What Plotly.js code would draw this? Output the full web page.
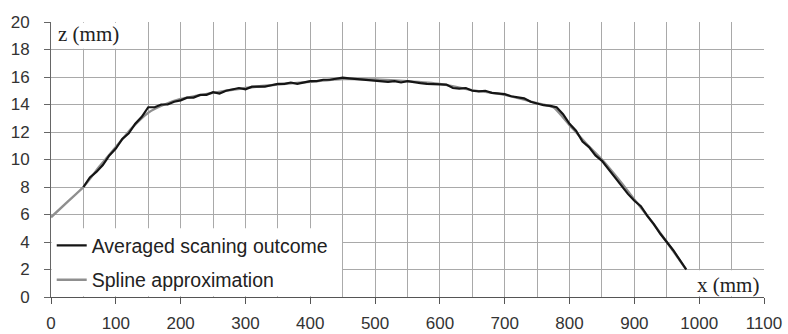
<!DOCTYPE html>
<html>
<head>
<meta charset="utf-8">
<script src="https://cdn.plot.ly/plotly-3.0.1.min.js"></script>
<style>html,body{margin:0;padding:0;background:#fff;}#chart{width:788px;height:334px;}</style>
</head>
<body>
<div id="chart"></div>
<script>
// Averaged scanning outcome (black, noisy)
const scanX = [50,60,70,80,90,100,110,120,130,140,150,160,170,180,190,200,210,220,230,240,250,260,270,280,290,300,310,320,330,340,350,360,370,380,390,400,410,420,430,440,450,460,470,480,490,500,510,520,530,540,550,560,570,580,590,600,610,620,630,640,650,660,670,680,690,700,710,720,730,740,750,760,770,780,790,800,810,820,830,840,850,860,870,880,890,900,910,920,930,940,950,960,970,980];
const scanZ = [8.0,8.7,9.1,9.6,10.3,10.8,11.5,11.9,12.6,13.1,13.8,13.8,14.0,14.0,14.2,14.3,14.5,14.5,14.7,14.7,14.9,14.8,15.0,15.1,15.2,15.1,15.3,15.3,15.3,15.4,15.5,15.5,15.6,15.5,15.6,15.7,15.7,15.8,15.8,15.9,15.95,15.9,15.85,15.8,15.75,15.7,15.7,15.65,15.7,15.6,15.7,15.6,15.55,15.5,15.5,15.45,15.45,15.2,15.15,15.2,15.0,14.95,15.0,14.85,14.8,14.75,14.6,14.55,14.45,14.2,14.05,13.95,13.9,13.8,13.3,12.6,12.1,11.3,10.9,10.3,9.9,9.3,8.7,8.1,7.5,7.0,6.6,5.9,5.3,4.6,4.0,3.4,2.7,2.0];
// Spline approximation (gray)
const splineX = [0,25,50,75,100,125,150,175,200,250,300,350,400,450,500,550,600,650,700,750,775,800,825,850,875,900,925,950,980];
const splineZ = [5.8,6.9,8.0,9.5,10.9,12.3,13.4,14.0,14.4,14.85,15.2,15.45,15.65,15.85,15.82,15.7,15.5,15.05,14.7,14.1,13.8,12.5,11.2,10.0,8.6,7.1,5.6,4.0,2.0];
const seriesNames = ["Averaged scaning outcome", "Spline approximation"];
const xTickVals = [0,100,200,300,400,500,600,700,800,900,1000,1100];
const yTickVals = [0,2,4,6,8,10,12,14,16,18,20];
const xLabel = "x (mm)";
const zLabel = "z (mm)";

const gridCol = '#a9a9a9';
const traces = [
  {x: splineX, y: splineZ, type: 'scatter', mode: 'lines', name: seriesNames[1],
   line: {color: '#8f8f8f', width: 2.4, shape: 'spline', smoothing: 0.6}, legendrank: 2, legendgroup: 'b'},
  {x: scanX, y: scanZ, type: 'scatter', mode: 'lines', name: seriesNames[0],
   line: {color: '#151515', width: 2.2}, legendrank: 1, legendgroup: 'a'}
];
const layout = {
  width: 788, height: 334,
  margin: {l: 51, r: 24, t: 22, b: 37},
  paper_bgcolor: '#fff', plot_bgcolor: '#fff',
  font: {family: 'Liberation Sans, Arial, sans-serif', color: '#333'},
  showlegend: true,
  legend: {x: 0.001, y: -0.008, xanchor: 'left', yanchor: 'bottom', bgcolor: 'rgba(0,0,0,0)',
           font: {size: 19.5, color: '#222'}, itemwidth: 30, traceorder: 'grouped', tracegroupgap: 6},
  xaxis: {range: [0, 1100], tickvals: xTickVals, showgrid: true, gridcolor: gridCol, gridwidth: 1,
          minor: {dtick: 50, showgrid: true, gridcolor: gridCol, gridwidth: 1, ticks: ''},
          zeroline: false, showline: true, linecolor: '#555', linewidth: 1,
          ticks: 'outside', ticklen: 6, tickcolor: '#555', ticklabelstandoff: 5,
          tickfont: {size: 17, color: '#333'}},
  yaxis: {range: [0, 20], tickvals: yTickVals, showgrid: true, gridcolor: gridCol, gridwidth: 1,
          zeroline: false, showline: true, linecolor: '#666', linewidth: 1,
          ticks: 'outside', ticklen: 6, tickcolor: '#666', ticklabelstandoff: 11,
          tickfont: {size: 17, color: '#333'}},
  shapes: [
    {type: 'rect', layer: 'between', xref: 'x', yref: 'y', x0: 1, x1: 149, y0: 18.05, y1: 19.95, fillcolor: '#fff', line: {width: 0}},
    {type: 'rect', layer: 'between', xref: 'x', yref: 'y', x0: 1, x1: 449, y0: 0.05, y1: 5.0, fillcolor: '#fff', line: {width: 0}},
    {type: 'rect', layer: 'between', xref: 'x', yref: 'y', x0: 960, x1: 1099, y0: 0.05, y1: 1.95, fillcolor: '#fff', line: {width: 0}}
  ],
  annotations: [
    {text: zLabel, xref: 'x', yref: 'y', x: 8, y: 19.1, xanchor: 'left', yanchor: 'middle', showarrow: false,
     font: {family: 'Liberation Serif, Times New Roman, serif', size: 21, color: '#222'}},
    {text: xLabel, xref: 'x', yref: 'y', x: 1096, y: 0.9, xanchor: 'right', yanchor: 'middle', showarrow: false,
     font: {family: 'Liberation Serif, Times New Roman, serif', size: 21, color: '#222'}}
  ]
};
Plotly.newPlot('chart', traces, layout, {displayModeBar: false, staticPlot: true});
</script>
</body>
</html>
